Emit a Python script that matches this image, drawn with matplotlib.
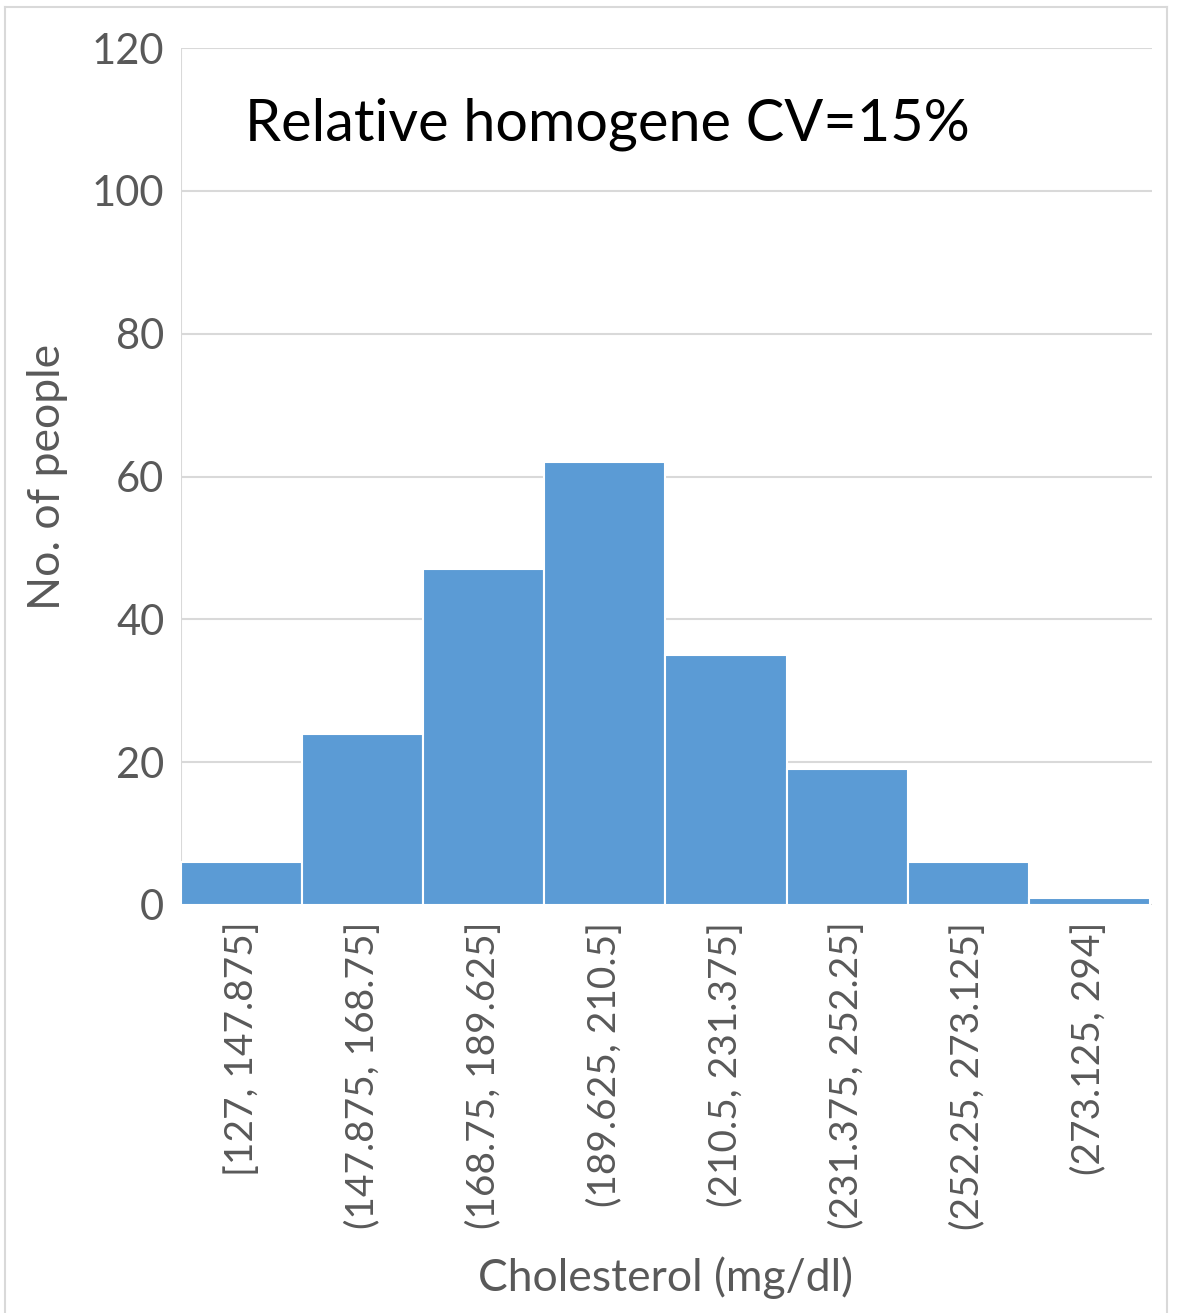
import numpy as np
import matplotlib
matplotlib.use("Agg")
import matplotlib.pyplot as plt
from matplotlib.lines import Line2D

# histogram bins (mg/dl) and counts
edges = [127, 147.875, 168.75, 189.625, 210.5, 231.375, 252.25, 273.125, 294]
counts = [6, 24, 47, 62, 35, 19, 6, 1]
bin_labels = ["[127, 147.875]", "(147.875, 168.75]", "(168.75, 189.625]",
              "(189.625, 210.5]", "(210.5, 231.375]", "(231.375, 252.25]",
              "(252.25, 273.125]", "(273.125, 294]"]
yticks = [0, 20, 40, 60, 80, 100, 120]

plt.rcParams['font.family'] = ['Lato', 'DejaVu Sans']
grey = '#595959'

W, H = 1178, 1313
fig = plt.figure(figsize=(W / 100, H / 100), dpi=100)
fig.patch.set_facecolor('white')

# chart border (screenshot frame)
def fx(px): return px / W
def fy(py): return 1 - py / H
for xs, ys in [([5, 1167], [7, 7]), ([5, 5], [7, 1313]), ([1167, 1167], [7, 1313])]:
    fig.add_artist(Line2D([fx(v) for v in xs], [fy(v) for v in ys],
                          color='#D9D9D9', lw=1.5, transform=fig.transFigure))

ax = fig.add_axes([fx(181), fy(905), (1152 - 181) / W, (905 - 48) / H])

e = np.array(edges)
ax.bar(e[:-1], counts, width=np.diff(e), align='edge', color='#5B9BD5',
       edgecolor='white', linewidth=1.5, zorder=3)

ax.set_xlim(127, 294.35)
ax.set_ylim(0, 120)
ax.set_yticks(yticks)
ax.yaxis.grid(True, color='#D9D9D9', lw=1.5, zorder=0)
ax.axvline(127, color='#D9D9D9', lw=1.5, zorder=1)
for s in ax.spines.values():
    s.set_visible(False)

ax.tick_params(axis='both', length=0, colors=grey, labelsize=30)
ax.tick_params(axis='y', pad=12)
centers = (e[:-1] + e[1:]) / 2
ax.set_xticks(centers)
ax.set_xticklabels(bin_labels, rotation=90, fontsize=28)
ax.tick_params(axis='x', pad=12)

ax.set_ylabel("No. of people", fontsize=32, color=grey)
ax.yaxis.set_label_coords((68 - 181) / 971, 0.5)
fig.text(fx(666), fy(1278), "Cholesterol (mg/dl)", fontsize=32, color=grey,
         ha='center', va='center')

ax.text(0.066, 107, "Relative homogene CV=15%", transform=ax.get_yaxis_transform(),
        fontsize=41.5, color='black', va='baseline', ha='left')

fig.savefig("out.png", dpi=100, facecolor='white')
